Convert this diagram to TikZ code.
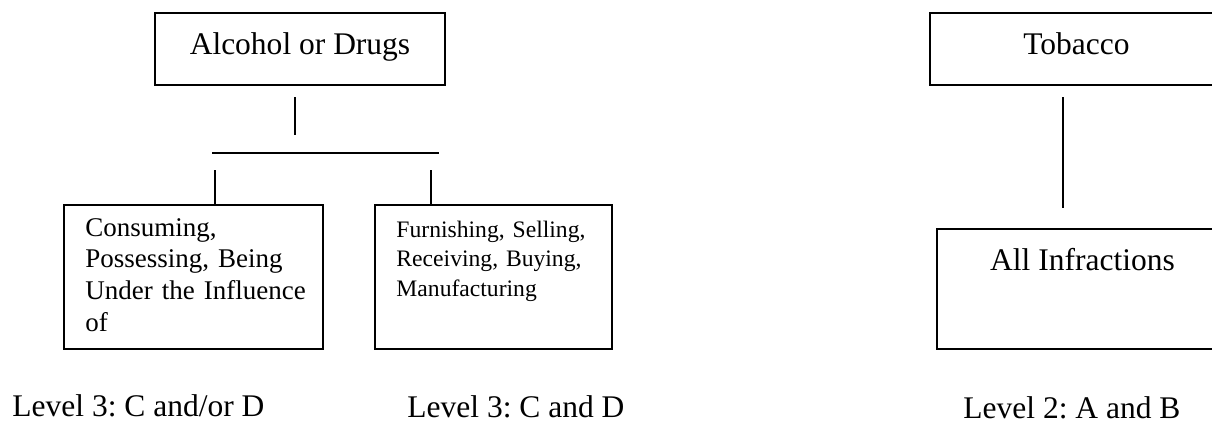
\documentclass[tikz,border=0pt]{standalone}
\usepackage{fontspec}
\setmainfont{Liberation Serif}
\frenchspacing
\begin{document}
\begin{tikzpicture}[x=0.4444pt,y=-0.4444pt,
  box/.style={draw, line width=0.9pt, inner sep=0pt},
  conn/.style={line width=1.1pt},
  lbl/.style={inner sep=0pt, font=\fontsize{14}{16}\selectfont},
  small/.style={inner sep=0pt, align=left, text width=#1},
]
\def\u{0.4444pt}
\useasboundingbox (0,0) rectangle (1212,423);
\clip (0,0) rectangle (1212,423);
% Alcohol tree
\node[box, minimum width=290*\u, minimum height=72*\u] (alc) at (300,49) {};
\node[lbl, anchor=base] (alct) at (300,54) {Alcohol or Drugs};
\coordinate (a1) at (295,97);
\coordinate (a2) at (295,135);
\coordinate (h1) at (212,153);
\coordinate (h2) at (439,153);
\coordinate (l1) at (215,170);
\coordinate (r1) at (431,170);
\node[box, minimum width=259*\u, minimum height=144*\u] (cons) at (193.5,277) {};
\node[box, minimum width=237*\u, minimum height=144*\u] (furn) at (493.5,277) {};
\node[small=300*\u, anchor=base west, font=\fontsize{12}{14.2}\selectfont] (const) at (85,236)
  {Consuming,\\Possessing, Being\\Under the Influence\\of};
\node[small=280*\u, anchor=base west, font=\fontsize{10.5}{13.3}\selectfont] (furnt) at (396,237)
  {Furnishing, Selling,\\Receiving, Buying,\\Manufacturing};
\draw[conn] (a1) -- (a2);
\draw[conn] (h1) -- (h2);
\draw[conn] (l1) -- (l1 |- cons.north);
\draw[conn] (r1) -- (r1 |- furn.north);
% Tobacco tree
\node[box, minimum width=293*\u, minimum height=72*\u] (tob) at (1076.5,49) {};
\node[lbl, anchor=base] (tobt) at (1076.5,54) {Tobacco};
\coordinate (t1) at (1063,97);
\coordinate (t2) at (1063,208);
\draw[conn] (t1) -- (t2);
\node[box, minimum width=291*\u, minimum height=120*\u] (inf) at (1082.5,289) {};
\node[lbl, anchor=base] (inft) at (1082.5,270) {All Infractions};
% Level labels
\node[lbl, anchor=base west] (lv1) at (12,416) {Level 3: C and/or D};
\node[lbl, anchor=base west] (lv2) at (407,417) {Level 3: C and D};
\node[lbl, anchor=base west] (lv3) at (963,418) {Level 2: A and B};
\end{tikzpicture}
\end{document}
